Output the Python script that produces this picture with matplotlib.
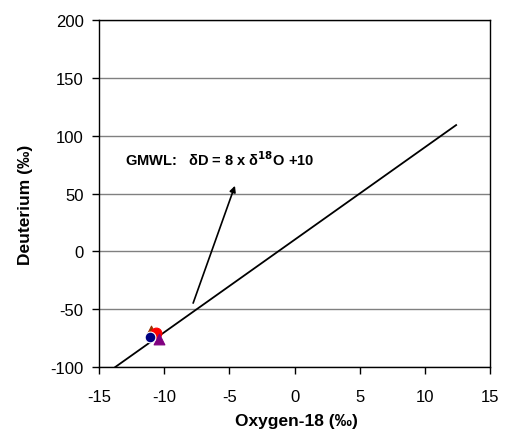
import matplotlib
matplotlib.use("Agg")
import matplotlib.pyplot as plt
import numpy as np

plt.rcParams['font.family'] = ['Liberation Sans', 'DejaVu Sans']
plt.rcParams['axes.unicode_minus'] = False

# GMWL endpoints (oxygen-18)
gmwl_x = [-13.75, 12.4]
slope, intercept = 8, 10

# Sample points
samples = [
    # (x, y, marker, face, edge)
    (-11.0, -69.0, '^', '#993300', '#993300'),
    (-10.6, -70.5, 'o', '#FF0000', '#FF0000'),
    (-10.4, -75.5, '^', '#800080', '#800080'),
    (-11.1, -74.0, 'o', '#000080', 'white'),
]

# Arrow (tail, head)
arrow_tail = (-7.85, -47)
arrow_head = (-4.5, 59)

fig = plt.figure(figsize=(5.06, 4.39), dpi=100)
ax = fig.add_axes([0.1957, 0.1617, 0.7727, 0.7903])

ax.set_xlim(-15, 15)
ax.set_ylim(-100, 200)
ax.set_xticks(np.arange(-15, 16, 5))
ax.set_yticks(np.arange(-100, 201, 50))
ax.yaxis.grid(True, color='#808080', linewidth=1)
ax.set_axisbelow(True)
for s in ax.spines.values():
    s.set_linewidth(1)
    s.set_color('black')
ax.tick_params(axis='both', direction='out', length=5, width=1, labelsize=12)
ax.tick_params(axis='x', pad=11)
ax.tick_params(axis='y', pad=6)

xs = np.array(gmwl_x)
ax.plot(xs, slope * xs + intercept, color='black', linewidth=1.3, zorder=3)

for x, y, m, fc, ec in samples:
    ax.scatter([x], [y], marker=m, s=60, facecolor=fc, edgecolor=ec, linewidth=0.8, zorder=4)

ax.annotate('', xy=arrow_head, xytext=arrow_tail,
            arrowprops=dict(arrowstyle='-|>', color='black', lw=1.2, mutation_scale=9))

ax.text(-13.0, 80, r'GMWL:   δD = 8 x δ$^{\mathbf{18}}$O +10', fontsize=10.5, fontweight='bold',
        va='center', ha='left')

ax.set_xlabel('Oxygen-18 (‰)', fontsize=12.5, fontweight='bold')
ax.set_ylabel('Deuterium (‰)', fontsize=12.5, fontweight='bold')
ax.xaxis.set_label_coords(0.505, -0.133)
ax.yaxis.set_label_coords(-0.169, 0.47)

fig.savefig('out.png', dpi=100)
